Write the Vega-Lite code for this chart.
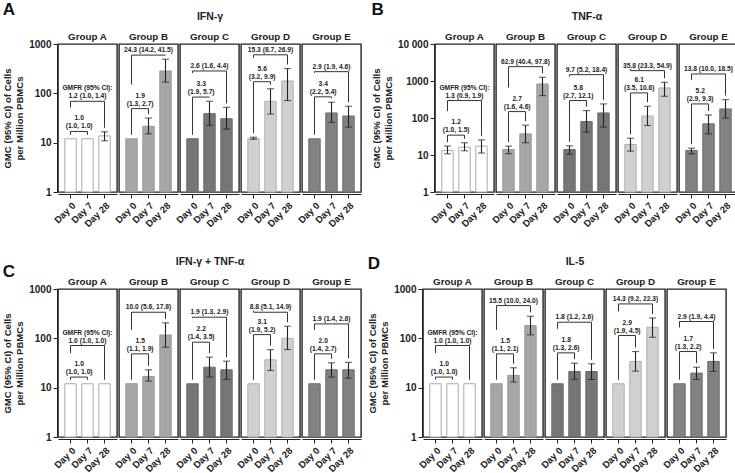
{
"$schema": "https://vega.github.io/schema/vega-lite/v6.json",
"padding": {"left": 2, "top": 0, "right": 0, "bottom": 0},
"config": {
  "font": "Liberation Sans",
  "view": {"stroke": "#222", "strokeWidth": 1.4},
  "axis": {"labelFont": "Liberation Sans", "labelFontWeight": "bold", "labelColor": "#222", "domainColor": "#222", "tickColor": "#222", "titleFont": "Liberation Sans", "titleFontWeight": "bold", "titleColor": "#222", "grid": false},
  "header": {"labelFont": "Liberation Sans", "labelFontSize": 9.8, "labelFontWeight": "bold", "labelColor": "#222", "labelPadding": 1, "titleFont": "Liberation Sans", "titleFontSize": 10.5, "titleFontWeight": "bold", "titleColor": "#222", "titlePadding": 0},
  "title": {"font": "Liberation Sans", "fontSize": 17, "fontWeight": "bold", "color": "#111", "anchor": "start", "frame": "bounds"}
},
"datasets": {
"cells": [
{"p":"A","g":"Group A","d":"Day 0","gmc":12,"lo":12,"hi":12},
{"p":"A","g":"Group A","d":"Day 7","gmc":12,"lo":12,"hi":12,"top":"1.0","bot":"(1.0, 1.0)","lvl":16.9},
{"p":"A","g":"Group A","d":"Day 28","gmc":13.7,"lo":10.9,"hi":16.6,"top":"GMFR (95% CI):","bot":"1.2 (1.0, 1.4)","lvl":69},
{"p":"A","g":"Group B","d":"Day 0","gmc":12,"lo":12,"hi":12},
{"p":"A","g":"Group B","d":"Day 7","gmc":21.5,"lo":15.1,"hi":31.6,"top":"1.9","bot":"(1.3, 2.7)","lvl":49},
{"p":"A","g":"Group B","d":"Day 28","gmc":284,"lo":169,"hi":492,"bot":"24.3 (14.2, 41.5)","lvl":595},
{"p":"A","g":"Group C","d":"Day 0","gmc":12,"lo":12,"hi":12},
{"p":"A","g":"Group C","d":"Day 7","gmc":38.7,"lo":22.4,"hi":69,"top":"3.3","bot":"(1.9, 5.7)","lvl":84},
{"p":"A","g":"Group C","d":"Day 28","gmc":30.6,"lo":18.8,"hi":52,"bot":"2.6 (1.6, 4.4)","lvl":284},
{"p":"A","g":"Group D","d":"Day 0","gmc":12.2,"lo":11.7,"hi":12.9},
{"p":"A","g":"Group D","d":"Day 7","gmc":69,"lo":38,"hi":124,"top":"5.6","bot":"(3.2, 9.9)","lvl":172},
{"p":"A","g":"Group D","d":"Day 28","gmc":178,"lo":71.5,"hi":318,"bot":"15.3 (8.7, 26.9)","lvl":604},
{"p":"A","g":"Group E","d":"Day 0","gmc":12,"lo":12,"hi":12},
{"p":"A","g":"Group E","d":"Day 7","gmc":40,"lo":25.8,"hi":66,"top":"3.4","bot":"(2.2, 5.4)","lvl":85},
{"p":"A","g":"Group E","d":"Day 28","gmc":34.7,"lo":20.7,"hi":54.7,"bot":"2.9 (1.9, 4.6)","lvl":275},

{"p":"B","g":"Group A","d":"Day 0","gmc":13.3,"lo":10.8,"hi":17.4},
{"p":"B","g":"Group A","d":"Day 7","gmc":16.3,"lo":13,"hi":21.4,"top":"1.2","bot":"(1.0, 1.5)","lvl":34.4},
{"p":"B","g":"Group A","d":"Day 28","gmc":17.4,"lo":11.3,"hi":25.7,"top":"GMFR (95% CI):","bot":"1.3 (0.9, 1.9)","lvl":296},
{"p":"B","g":"Group B","d":"Day 0","gmc":14.1,"lo":10.8,"hi":17.4},
{"p":"B","g":"Group B","d":"Day 7","gmc":37.3,"lo":21.4,"hi":64,"top":"2.7","bot":"(1.6, 4.6)","lvl":149},
{"p":"B","g":"Group B","d":"Day 28","gmc":832,"lo":403,"hi":1260,"bot":"62.9 (40.4, 97.8)","lvl":2440},
{"p":"B","g":"Group C","d":"Day 0","gmc":14.1,"lo":10.4,"hi":17.7},
{"p":"B","g":"Group C","d":"Day 7","gmc":80,"lo":41.4,"hi":159,"top":"5.8","bot":"(2.7, 12.1)","lvl":296},
{"p":"B","g":"Group C","d":"Day 28","gmc":137,"lo":56.5,"hi":240,"bot":"9.7 (5.2, 18.4)","lvl":1483},
{"p":"B","g":"Group D","d":"Day 0","gmc":19.3,"lo":12.7,"hi":28.5},
{"p":"B","g":"Group D","d":"Day 7","gmc":113,"lo":62.7,"hi":208,"top":"6.1","bot":"(3.5, 10.6)","lvl":476},
{"p":"B","g":"Group D","d":"Day 28","gmc":650,"lo":387,"hi":922,"bot":"35.8 (23.3, 54.9)","lvl":1905},
{"p":"B","g":"Group E","d":"Day 0","gmc":13.3,"lo":10.8,"hi":15.3},
{"p":"B","g":"Group E","d":"Day 7","gmc":69.5,"lo":37.3,"hi":121,"top":"5.2","bot":"(2.9, 9.3)","lvl":240},
{"p":"B","g":"Group E","d":"Day 28","gmc":176,"lo":100,"hi":314,"bot":"13.8 (10.0, 18.5)","lvl":1550},

{"p":"C","g":"Group A","d":"Day 0","gmc":12,"lo":12,"hi":12},
{"p":"C","g":"Group A","d":"Day 7","gmc":12,"lo":12,"hi":12,"top":"1.0","bot":"(1.0, 1.0)","lvl":16.4},
{"p":"C","g":"Group A","d":"Day 28","gmc":12,"lo":12,"hi":12,"top":"GMFR (95% CI):","bot":"1.0 (1.0, 1.0)","lvl":71.5},
{"p":"C","g":"Group B","d":"Day 0","gmc":12,"lo":12,"hi":12},
{"p":"C","g":"Group B","d":"Day 7","gmc":16.9,"lo":13.6,"hi":23,"top":"1.5","bot":"(1.1, 1.9)","lvl":48.5},
{"p":"C","g":"Group B","d":"Day 28","gmc":117,"lo":66,"hi":206,"bot":"10.0 (5.6, 17.8)","lvl":338},
{"p":"C","g":"Group C","d":"Day 0","gmc":12,"lo":12,"hi":12},
{"p":"C","g":"Group C","d":"Day 7","gmc":26,"lo":16.4,"hi":41.5,"top":"2.2","bot":"(1.4, 3.5)","lvl":83.5},
{"p":"C","g":"Group C","d":"Day 28","gmc":23,"lo":14.7,"hi":34.5,"bot":"1.9 (1.3, 2.9)","lvl":268},
{"p":"C","g":"Group D","d":"Day 0","gmc":12,"lo":12,"hi":12},
{"p":"C","g":"Group D","d":"Day 7","gmc":36.7,"lo":22.3,"hi":59,"top":"3.1","bot":"(1.9, 5.2)","lvl":119},
{"p":"C","g":"Group D","d":"Day 28","gmc":100,"lo":59.3,"hi":176,"bot":"8.8 (5.1, 14.9)","lvl":338},
{"p":"C","g":"Group E","d":"Day 0","gmc":12,"lo":12,"hi":12},
{"p":"C","g":"Group E","d":"Day 7","gmc":23,"lo":16.4,"hi":31.9,"top":"2.0","bot":"(1.4, 2.7)","lvl":48.5},
{"p":"C","g":"Group E","d":"Day 28","gmc":23,"lo":15.6,"hi":32.5,"bot":"1.9 (1.4, 2.8)","lvl":196},

{"p":"D","g":"Group A","d":"Day 0","gmc":12,"lo":12,"hi":12},
{"p":"D","g":"Group A","d":"Day 7","gmc":12,"lo":12,"hi":12,"top":"1.0","bot":"(1.0, 1.0)","lvl":16.4},
{"p":"D","g":"Group A","d":"Day 28","gmc":12,"lo":12,"hi":12,"top":"GMFR (95% CI):","bot":"1.0 (1.0, 1.0)","lvl":71.5},
{"p":"D","g":"Group B","d":"Day 0","gmc":12,"lo":12,"hi":12},
{"p":"D","g":"Group B","d":"Day 7","gmc":17.7,"lo":13,"hi":25.3,"top":"1.5","bot":"(1.1, 2.1)","lvl":48.5},
{"p":"D","g":"Group B","d":"Day 28","gmc":181,"lo":117.5,"hi":280,"bot":"15.5 (10.0, 24.0)","lvl":461},
{"p":"D","g":"Group C","d":"Day 0","gmc":12,"lo":12,"hi":12},
{"p":"D","g":"Group C","d":"Day 7","gmc":21.3,"lo":14.7,"hi":31.4,"top":"1.8","bot":"(1.3, 2.6)","lvl":50.8},
{"p":"D","g":"Group C","d":"Day 28","gmc":21.3,"lo":14.7,"hi":30.5,"bot":"1.8 (1.2, 2.6)","lvl":212},
{"p":"D","g":"Group D","d":"Day 0","gmc":12,"lo":12,"hi":12},
{"p":"D","g":"Group D","d":"Day 7","gmc":33.9,"lo":21.6,"hi":54,"top":"2.9","bot":"(1.9, 4.5)","lvl":114},
{"p":"D","g":"Group D","d":"Day 28","gmc":168,"lo":105,"hi":259,"bot":"14.3 (9.2, 22.3)","lvl":498},
{"p":"D","g":"Group E","d":"Day 0","gmc":12,"lo":12,"hi":12},
{"p":"D","g":"Group E","d":"Day 7","gmc":19.7,"lo":14.7,"hi":26,"top":"1.7","bot":"(1.3, 2.2)","lvl":54},
{"p":"D","g":"Group E","d":"Day 28","gmc":33.9,"lo":21.3,"hi":50.8,"bot":"2.9 (1.9, 4.4)","lvl":219}
]
},
"spacing": 25,
"vconcat": [
{"hconcat": [
{
  "data": {"name": "cells"},
  "transform": [{"filter": "datum.p == 'A'"}, {"joinaggregate": [{"op": "min", "field": "hi", "as": "base"}, {"op": "min", "field": "lvl", "as": "lvl7"}], "groupby": ["g"]}],
  "title": {"text": "A", "offset": -7},
  "facet": {"column": {"field": "g", "type": "nominal", "header": {"title": "IFN-γ"}}},
  "spacing": 0,
  "spec": {
    "width": 59, "height": 148,
    "encoding": {"x": {"field": "d", "type": "ordinal", "sort": ["Day 0", "Day 7", "Day 28"], "scale": {"paddingInner": 0.33, "paddingOuter": 0.4}, "axis": {"title": null, "labelAngle": -45, "labelFontSize": 9.5, "tickSize": 4, "labelPadding": 2}}},
    "layer": [
      {"mark": {"type": "bar", "strokeWidth": 1},
       "encoding": {
         "y": {"field": "gmc", "type": "quantitative", "scale": {"type": "log", "domain": [1, 1000], "nice": false}, "axis": {"title": ["GMC (95% CI) of Cells", "per Million PBMCs"], "titleFontSize": 9.6, "titleLineHeight": 12, "titlePadding": 4, "values": [1, 10, 100, 1000], "format": "d", "labelFontSize": 10, "tickSize": 4, "labelPadding": 2}},
         "y2": {"datum": 1},
         "fill": {"field": "g", "type": "nominal", "scale": {"domain": ["Group A", "Group B", "Group C", "Group D", "Group E"], "range": ["#ffffff", "#a6a6a6", "#767676", "#d0d0d0", "#828282"]}, "legend": null},
         "stroke": {"field": "g", "type": "nominal", "scale": {"domain": ["Group A", "Group B", "Group C", "Group D", "Group E"], "range": ["#aaaaaa", "#999999", "#6a6a6a", "#b0b0b0", "#6c6c6c"]}, "legend": null}
       }},
      {"transform": [{"filter": "datum.hi > datum.gmc"}],
       "mark": {"type": "rule", "color": "#222", "strokeWidth": 1.1},
       "encoding": {"y": {"field": "lo", "type": "quantitative"}, "y2": {"field": "hi"}}},
      {"transform": [{"filter": "datum.hi > datum.gmc"}],
       "mark": {"type": "tick", "color": "#222", "thickness": 1.1, "size": 7, "orient": "horizontal"},
       "encoding": {"y": {"field": "hi", "type": "quantitative"}}},
      {"transform": [{"filter": "datum.hi > datum.gmc"}],
       "mark": {"type": "tick", "color": "#222", "thickness": 1.1, "size": 7, "orient": "horizontal"},
       "encoding": {"y": {"field": "lo", "type": "quantitative"}}},
      {"transform": [{"filter": "datum.lvl != null"}],
       "mark": {"type": "rule", "color": "#333", "strokeWidth": 1},
       "encoding": {"x": {"datum": "Day 0"}, "x2": {"field": "d"}, "y": {"field": "lvl", "type": "quantitative"}}},
      {"transform": [{"filter": "datum.d == 'Day 7'"}],
       "mark": {"type": "rule", "color": "#333", "strokeWidth": 1, "y2Offset": -4},
       "encoding": {"x": {"datum": "Day 0"}, "y": {"field": "lvl", "type": "quantitative"}, "y2": {"field": "base"}}},
      {"transform": [{"filter": "datum.d == 'Day 28'"}],
       "mark": {"type": "rule", "color": "#333", "strokeWidth": 1, "y2Offset": -24},
       "encoding": {"x": {"datum": "Day 0"}, "y": {"field": "lvl", "type": "quantitative"}, "y2": {"field": "lvl7"}}},
      {"transform": [{"filter": "datum.lvl != null"}],
       "mark": {"type": "rule", "color": "#333", "strokeWidth": 1, "y2Offset": -4},
       "encoding": {"y": {"field": "lvl", "type": "quantitative"}, "y2": {"field": "hi"}}},
      {"transform": [{"filter": "datum.d == 'Day 7'"}],
       "mark": {"type": "text", "fontSize": 6.7, "fontWeight": "bold", "color": "#222", "baseline": "bottom", "dy": -2, "dx": 3},
       "encoding": {"x": {"datum": "Day 0", "bandPosition": 1}, "y": {"field": "lvl", "type": "quantitative"}, "text": {"field": "bot"}}},
      {"transform": [{"filter": "datum.d == 'Day 7'"}],
       "mark": {"type": "text", "fontSize": 6.7, "fontWeight": "bold", "color": "#222", "baseline": "bottom", "dy": -10, "dx": 3},
       "encoding": {"x": {"datum": "Day 0", "bandPosition": 1}, "y": {"field": "lvl", "type": "quantitative"}, "text": {"field": "top"}}},
      {"transform": [{"filter": "datum.d == 'Day 28'"}],
       "mark": {"type": "text", "fontSize": 6.7, "fontWeight": "bold", "color": "#222", "baseline": "bottom", "dy": -2},
       "encoding": {"x": {"datum": "Day 7"}, "y": {"field": "lvl", "type": "quantitative"}, "text": {"field": "bot"}}},
      {"transform": [{"filter": "datum.d == 'Day 28' && datum.top != null"}],
       "mark": {"type": "text", "fontSize": 6.7, "fontWeight": "bold", "color": "#222", "baseline": "bottom", "dy": -10},
       "encoding": {"x": {"datum": "Day 7"}, "y": {"field": "lvl", "type": "quantitative"}, "text": {"field": "top"}}}
    ]
  }
},
{
  "data": {"name": "cells"},
  "transform": [{"filter": "datum.p == 'B'"}, {"joinaggregate": [{"op": "min", "field": "hi", "as": "base"}, {"op": "min", "field": "lvl", "as": "lvl7"}], "groupby": ["g"]}],
  "title": {"text": "B", "offset": -7},
  "facet": {"column": {"field": "g", "type": "nominal", "header": {"title": "TNF-α"}}},
  "spacing": 0,
  "spec": {
    "width": 59, "height": 148,
    "encoding": {"x": {"field": "d", "type": "ordinal", "sort": ["Day 0", "Day 7", "Day 28"], "scale": {"paddingInner": 0.33, "paddingOuter": 0.4}, "axis": {"title": null, "labelAngle": -45, "labelFontSize": 9.5, "tickSize": 4, "labelPadding": 2}}},
    "layer": [
      {"mark": {"type": "bar", "strokeWidth": 1},
       "encoding": {
         "y": {"field": "gmc", "type": "quantitative", "scale": {"type": "log", "domain": [1, 10000], "nice": false}, "axis": {"title": ["GMC (95% CI) of Cells", "per Million PBMCs"], "titleFontSize": 9.6, "titleLineHeight": 12, "titlePadding": 4, "values": [1, 10, 100, 1000, 10000], "format": "d", "labelExpr": "datum.value == 10000 ? '10 000' : datum.label", "labelFontSize": 10, "tickSize": 4, "labelPadding": 2}},
         "y2": {"datum": 1},
         "fill": {"field": "g", "type": "nominal", "scale": {"domain": ["Group A", "Group B", "Group C", "Group D", "Group E"], "range": ["#ffffff", "#a6a6a6", "#767676", "#d0d0d0", "#828282"]}, "legend": null},
         "stroke": {"field": "g", "type": "nominal", "scale": {"domain": ["Group A", "Group B", "Group C", "Group D", "Group E"], "range": ["#aaaaaa", "#999999", "#6a6a6a", "#b0b0b0", "#6c6c6c"]}, "legend": null}
       }},
      {"transform": [{"filter": "datum.hi > datum.gmc"}],
       "mark": {"type": "rule", "color": "#222", "strokeWidth": 1.1},
       "encoding": {"y": {"field": "lo", "type": "quantitative"}, "y2": {"field": "hi"}}},
      {"transform": [{"filter": "datum.hi > datum.gmc"}],
       "mark": {"type": "tick", "color": "#222", "thickness": 1.1, "size": 7, "orient": "horizontal"},
       "encoding": {"y": {"field": "hi", "type": "quantitative"}}},
      {"transform": [{"filter": "datum.hi > datum.gmc"}],
       "mark": {"type": "tick", "color": "#222", "thickness": 1.1, "size": 7, "orient": "horizontal"},
       "encoding": {"y": {"field": "lo", "type": "quantitative"}}},
      {"transform": [{"filter": "datum.lvl != null"}],
       "mark": {"type": "rule", "color": "#333", "strokeWidth": 1},
       "encoding": {"x": {"datum": "Day 0"}, "x2": {"field": "d"}, "y": {"field": "lvl", "type": "quantitative"}}},
      {"transform": [{"filter": "datum.d == 'Day 7'"}],
       "mark": {"type": "rule", "color": "#333", "strokeWidth": 1, "y2Offset": -4},
       "encoding": {"x": {"datum": "Day 0"}, "y": {"field": "lvl", "type": "quantitative"}, "y2": {"field": "base"}}},
      {"transform": [{"filter": "datum.d == 'Day 28'"}],
       "mark": {"type": "rule", "color": "#333", "strokeWidth": 1, "y2Offset": -24},
       "encoding": {"x": {"datum": "Day 0"}, "y": {"field": "lvl", "type": "quantitative"}, "y2": {"field": "lvl7"}}},
      {"transform": [{"filter": "datum.lvl != null"}],
       "mark": {"type": "rule", "color": "#333", "strokeWidth": 1, "y2Offset": -4},
       "encoding": {"y": {"field": "lvl", "type": "quantitative"}, "y2": {"field": "hi"}}},
      {"transform": [{"filter": "datum.d == 'Day 7'"}],
       "mark": {"type": "text", "fontSize": 6.7, "fontWeight": "bold", "color": "#222", "baseline": "bottom", "dy": -2, "dx": 3},
       "encoding": {"x": {"datum": "Day 0", "bandPosition": 1}, "y": {"field": "lvl", "type": "quantitative"}, "text": {"field": "bot"}}},
      {"transform": [{"filter": "datum.d == 'Day 7'"}],
       "mark": {"type": "text", "fontSize": 6.7, "fontWeight": "bold", "color": "#222", "baseline": "bottom", "dy": -10, "dx": 3},
       "encoding": {"x": {"datum": "Day 0", "bandPosition": 1}, "y": {"field": "lvl", "type": "quantitative"}, "text": {"field": "top"}}},
      {"transform": [{"filter": "datum.d == 'Day 28'"}],
       "mark": {"type": "text", "fontSize": 6.7, "fontWeight": "bold", "color": "#222", "baseline": "bottom", "dy": -2},
       "encoding": {"x": {"datum": "Day 7"}, "y": {"field": "lvl", "type": "quantitative"}, "text": {"field": "bot"}}},
      {"transform": [{"filter": "datum.d == 'Day 28' && datum.top != null"}],
       "mark": {"type": "text", "fontSize": 6.7, "fontWeight": "bold", "color": "#222", "baseline": "bottom", "dy": -10},
       "encoding": {"x": {"datum": "Day 7"}, "y": {"field": "lvl", "type": "quantitative"}, "text": {"field": "top"}}}
    ]
  }
}
], "spacing": 9},
{"hconcat": [
{
  "data": {"name": "cells"},
  "transform": [{"filter": "datum.p == 'C'"}, {"joinaggregate": [{"op": "min", "field": "hi", "as": "base"}, {"op": "min", "field": "lvl", "as": "lvl7"}], "groupby": ["g"]}],
  "title": {"text": "C", "offset": -24},
  "facet": {"column": {"field": "g", "type": "nominal", "header": {"title": "IFN-γ + TNF-α"}}},
  "spacing": 0,
  "spec": {
    "width": 59, "height": 148,
    "encoding": {"x": {"field": "d", "type": "ordinal", "sort": ["Day 0", "Day 7", "Day 28"], "scale": {"paddingInner": 0.33, "paddingOuter": 0.4}, "axis": {"title": null, "labelAngle": -45, "labelFontSize": 9.5, "tickSize": 4, "labelPadding": 2}}},
    "layer": [
      {"mark": {"type": "bar", "strokeWidth": 1},
       "encoding": {
         "y": {"field": "gmc", "type": "quantitative", "scale": {"type": "log", "domain": [1, 1000], "nice": false}, "axis": {"title": ["GMC (95% CI) of Cells", "per Million PBMCs"], "titleFontSize": 9.6, "titleLineHeight": 12, "titlePadding": 4, "values": [1, 10, 100, 1000], "format": "d", "labelFontSize": 10, "tickSize": 4, "labelPadding": 2}},
         "y2": {"datum": 1},
         "fill": {"field": "g", "type": "nominal", "scale": {"domain": ["Group A", "Group B", "Group C", "Group D", "Group E"], "range": ["#ffffff", "#a6a6a6", "#767676", "#d0d0d0", "#828282"]}, "legend": null},
         "stroke": {"field": "g", "type": "nominal", "scale": {"domain": ["Group A", "Group B", "Group C", "Group D", "Group E"], "range": ["#aaaaaa", "#999999", "#6a6a6a", "#b0b0b0", "#6c6c6c"]}, "legend": null}
       }},
      {"transform": [{"filter": "datum.hi > datum.gmc"}],
       "mark": {"type": "rule", "color": "#222", "strokeWidth": 1.1},
       "encoding": {"y": {"field": "lo", "type": "quantitative"}, "y2": {"field": "hi"}}},
      {"transform": [{"filter": "datum.hi > datum.gmc"}],
       "mark": {"type": "tick", "color": "#222", "thickness": 1.1, "size": 7, "orient": "horizontal"},
       "encoding": {"y": {"field": "hi", "type": "quantitative"}}},
      {"transform": [{"filter": "datum.hi > datum.gmc"}],
       "mark": {"type": "tick", "color": "#222", "thickness": 1.1, "size": 7, "orient": "horizontal"},
       "encoding": {"y": {"field": "lo", "type": "quantitative"}}},
      {"transform": [{"filter": "datum.lvl != null"}],
       "mark": {"type": "rule", "color": "#333", "strokeWidth": 1},
       "encoding": {"x": {"datum": "Day 0"}, "x2": {"field": "d"}, "y": {"field": "lvl", "type": "quantitative"}}},
      {"transform": [{"filter": "datum.d == 'Day 7'"}],
       "mark": {"type": "rule", "color": "#333", "strokeWidth": 1, "y2Offset": -4},
       "encoding": {"x": {"datum": "Day 0"}, "y": {"field": "lvl", "type": "quantitative"}, "y2": {"field": "base"}}},
      {"transform": [{"filter": "datum.d == 'Day 28'"}],
       "mark": {"type": "rule", "color": "#333", "strokeWidth": 1, "y2Offset": -24},
       "encoding": {"x": {"datum": "Day 0"}, "y": {"field": "lvl", "type": "quantitative"}, "y2": {"field": "lvl7"}}},
      {"transform": [{"filter": "datum.lvl != null"}],
       "mark": {"type": "rule", "color": "#333", "strokeWidth": 1, "y2Offset": -4},
       "encoding": {"y": {"field": "lvl", "type": "quantitative"}, "y2": {"field": "hi"}}},
      {"transform": [{"filter": "datum.d == 'Day 7'"}],
       "mark": {"type": "text", "fontSize": 6.7, "fontWeight": "bold", "color": "#222", "baseline": "bottom", "dy": -2, "dx": 3},
       "encoding": {"x": {"datum": "Day 0", "bandPosition": 1}, "y": {"field": "lvl", "type": "quantitative"}, "text": {"field": "bot"}}},
      {"transform": [{"filter": "datum.d == 'Day 7'"}],
       "mark": {"type": "text", "fontSize": 6.7, "fontWeight": "bold", "color": "#222", "baseline": "bottom", "dy": -10, "dx": 3},
       "encoding": {"x": {"datum": "Day 0", "bandPosition": 1}, "y": {"field": "lvl", "type": "quantitative"}, "text": {"field": "top"}}},
      {"transform": [{"filter": "datum.d == 'Day 28'"}],
       "mark": {"type": "text", "fontSize": 6.7, "fontWeight": "bold", "color": "#222", "baseline": "bottom", "dy": -2},
       "encoding": {"x": {"datum": "Day 7"}, "y": {"field": "lvl", "type": "quantitative"}, "text": {"field": "bot"}}},
      {"transform": [{"filter": "datum.d == 'Day 28' && datum.top != null"}],
       "mark": {"type": "text", "fontSize": 6.7, "fontWeight": "bold", "color": "#222", "baseline": "bottom", "dy": -10},
       "encoding": {"x": {"datum": "Day 7"}, "y": {"field": "lvl", "type": "quantitative"}, "text": {"field": "top"}}}
    ]
  }
},
{
  "data": {"name": "cells"},
  "transform": [{"filter": "datum.p == 'D'"}, {"joinaggregate": [{"op": "min", "field": "hi", "as": "base"}, {"op": "min", "field": "lvl", "as": "lvl7"}], "groupby": ["g"]}],
  "title": {"text": "D", "offset": -16},
  "facet": {"column": {"field": "g", "type": "nominal", "header": {"title": "IL-5"}}},
  "spacing": 0,
  "spec": {
    "width": 59, "height": 148,
    "encoding": {"x": {"field": "d", "type": "ordinal", "sort": ["Day 0", "Day 7", "Day 28"], "scale": {"paddingInner": 0.33, "paddingOuter": 0.4}, "axis": {"title": null, "labelAngle": -45, "labelFontSize": 9.5, "tickSize": 4, "labelPadding": 2}}},
    "layer": [
      {"mark": {"type": "bar", "strokeWidth": 1},
       "encoding": {
         "y": {"field": "gmc", "type": "quantitative", "scale": {"type": "log", "domain": [1, 1000], "nice": false}, "axis": {"title": ["GMC (95% CI) of Cells", "per Million PBMCs"], "titleFontSize": 9.6, "titleLineHeight": 12, "titlePadding": 4, "values": [1, 10, 100, 1000], "format": "d", "labelFontSize": 10, "tickSize": 4, "labelPadding": 2}},
         "y2": {"datum": 1},
         "fill": {"field": "g", "type": "nominal", "scale": {"domain": ["Group A", "Group B", "Group C", "Group D", "Group E"], "range": ["#ffffff", "#a6a6a6", "#767676", "#d0d0d0", "#828282"]}, "legend": null},
         "stroke": {"field": "g", "type": "nominal", "scale": {"domain": ["Group A", "Group B", "Group C", "Group D", "Group E"], "range": ["#aaaaaa", "#999999", "#6a6a6a", "#b0b0b0", "#6c6c6c"]}, "legend": null}
       }},
      {"transform": [{"filter": "datum.hi > datum.gmc"}],
       "mark": {"type": "rule", "color": "#222", "strokeWidth": 1.1},
       "encoding": {"y": {"field": "lo", "type": "quantitative"}, "y2": {"field": "hi"}}},
      {"transform": [{"filter": "datum.hi > datum.gmc"}],
       "mark": {"type": "tick", "color": "#222", "thickness": 1.1, "size": 7, "orient": "horizontal"},
       "encoding": {"y": {"field": "hi", "type": "quantitative"}}},
      {"transform": [{"filter": "datum.hi > datum.gmc"}],
       "mark": {"type": "tick", "color": "#222", "thickness": 1.1, "size": 7, "orient": "horizontal"},
       "encoding": {"y": {"field": "lo", "type": "quantitative"}}},
      {"transform": [{"filter": "datum.lvl != null"}],
       "mark": {"type": "rule", "color": "#333", "strokeWidth": 1},
       "encoding": {"x": {"datum": "Day 0"}, "x2": {"field": "d"}, "y": {"field": "lvl", "type": "quantitative"}}},
      {"transform": [{"filter": "datum.d == 'Day 7'"}],
       "mark": {"type": "rule", "color": "#333", "strokeWidth": 1, "y2Offset": -4},
       "encoding": {"x": {"datum": "Day 0"}, "y": {"field": "lvl", "type": "quantitative"}, "y2": {"field": "base"}}},
      {"transform": [{"filter": "datum.d == 'Day 28'"}],
       "mark": {"type": "rule", "color": "#333", "strokeWidth": 1, "y2Offset": -24},
       "encoding": {"x": {"datum": "Day 0"}, "y": {"field": "lvl", "type": "quantitative"}, "y2": {"field": "lvl7"}}},
      {"transform": [{"filter": "datum.lvl != null"}],
       "mark": {"type": "rule", "color": "#333", "strokeWidth": 1, "y2Offset": -4},
       "encoding": {"y": {"field": "lvl", "type": "quantitative"}, "y2": {"field": "hi"}}},
      {"transform": [{"filter": "datum.d == 'Day 7'"}],
       "mark": {"type": "text", "fontSize": 6.7, "fontWeight": "bold", "color": "#222", "baseline": "bottom", "dy": -2, "dx": 3},
       "encoding": {"x": {"datum": "Day 0", "bandPosition": 1}, "y": {"field": "lvl", "type": "quantitative"}, "text": {"field": "bot"}}},
      {"transform": [{"filter": "datum.d == 'Day 7'"}],
       "mark": {"type": "text", "fontSize": 6.7, "fontWeight": "bold", "color": "#222", "baseline": "bottom", "dy": -10, "dx": 3},
       "encoding": {"x": {"datum": "Day 0", "bandPosition": 1}, "y": {"field": "lvl", "type": "quantitative"}, "text": {"field": "top"}}},
      {"transform": [{"filter": "datum.d == 'Day 28'"}],
       "mark": {"type": "text", "fontSize": 6.7, "fontWeight": "bold", "color": "#222", "baseline": "bottom", "dy": -2},
       "encoding": {"x": {"datum": "Day 7"}, "y": {"field": "lvl", "type": "quantitative"}, "text": {"field": "bot"}}},
      {"transform": [{"filter": "datum.d == 'Day 28' && datum.top != null"}],
       "mark": {"type": "text", "fontSize": 6.7, "fontWeight": "bold", "color": "#222", "baseline": "bottom", "dy": -10},
       "encoding": {"x": {"datum": "Day 7"}, "y": {"field": "lvl", "type": "quantitative"}, "text": {"field": "top"}}}
    ]
  }
}
], "spacing": 5}
]
}
